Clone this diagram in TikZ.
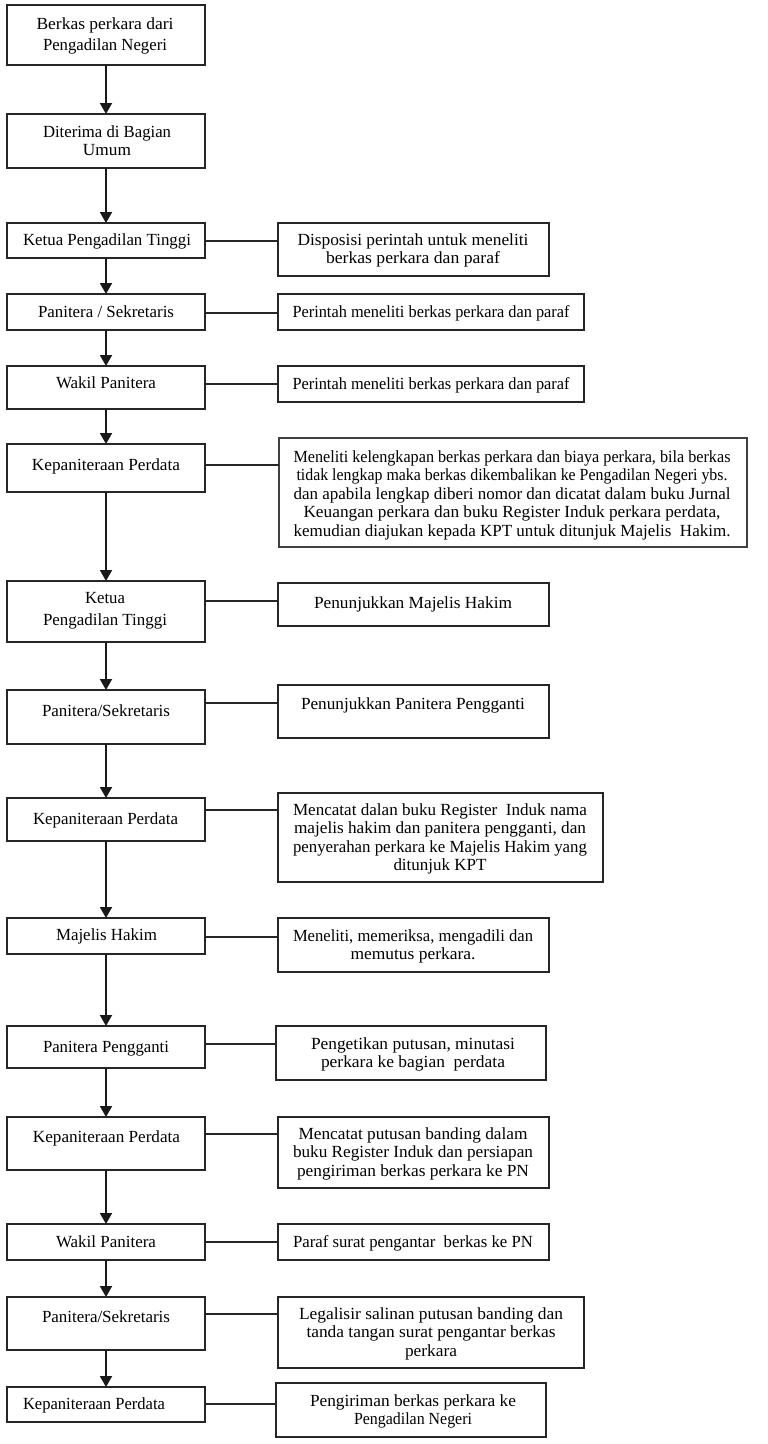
\documentclass[tikz,border=0pt]{standalone}
\usepackage{fontspec}
\setmainfont{Liberation Serif}
\usepackage{graphicx}
\usetikzlibrary{arrows.meta}
\newsavebox\fitbx
\newcommand\fitw[2]{\sbox\fitbx{#2}\edef\fitr{\fpeval{(#1)/(\the\wd\fitbx)}}\scalebox{\fitr}[1]{\usebox\fitbx}}
\tikzset{
  bx/.style={draw=black!85, line width=1.4pt, inner sep=0pt, outer sep=0pt, anchor=north west},
  thick box/.style={line width=2.3pt},
  mid box/.style={line width=1.9pt},
  arr/.style={draw=black!90, line width=1.9pt, -{Triangle[length=11pt,width=12pt]}},
  con/.style={draw=black!85, line width=1.2pt},
  tx/.style={anchor=base, inner sep=0pt, outer sep=0pt, text=black, yshift=-2pt}
}
\newcommand\bx[6][]{\node[bx,#1,minimum width=\fpeval{#5-#3}pt,minimum height=\fpeval{#6-#4}pt] (#2) at (#3,#4) {};}
\newcommand\txt[5]{\node[tx] (#1) at (#2,#3) {\fontsize{17}{#4}\selectfont\begin{tabular}[t]{@{}c@{}}#5\end{tabular}};}
\newcommand\conn[3]{\coordinate (c#1) at ([yshift=-#3pt]#1.north east); \draw[con] (c#1) -- (c#1 -| #2.west);}
\begin{document}
\begin{tikzpicture}[x=1pt,y=-1pt]
\useasboundingbox (0,0) rectangle (768,1444);
% left column boxes
\bx[thick box]{L1}{7}{5}{205}{65}
\bx{L2}{7}{114}{205}{168}
\bx{L3}{7}{223}{205}{258}
\bx{L4}{7}{294}{205}{330}
\bx{L5}{7}{366}{205}{409}
\bx{L6}{7}{444}{205}{492}
\bx[mid box]{L7}{7}{581}{205}{642}
\bx{L8}{7}{690}{205}{744}
\bx{L9}{7}{798}{205}{841}
\bx{L10}{7}{918}{205}{954}
\bx[mid box]{L11}{7}{1026}{205}{1068}
\bx{L12}{7}{1117}{205}{1170}
\bx{L13}{7}{1224}{205}{1260}
\bx{L14}{7}{1297}{205}{1350}
\bx{L15}{7}{1387}{205}{1422}
% right column boxes
\bx{R3}{278}{223}{549}{276}
\bx{R4}{278}{294}{584}{330}
\bx{R5}{278}{366}{584}{402}
\bx[mid box,draw=black!75]{R6}{279}{438}{747}{547}
\bx[mid box]{R7}{278}{583}{549}{626}
\bx{R8}{278}{685}{549}{738}
\bx{R9}{278}{793}{603}{882}
\bx{R10}{278}{918}{549}{972}
\bx[mid box]{R11}{276}{1026}{546}{1080}
\bx{R12}{278}{1117}{549}{1188}
\bx{R13}{278}{1224}{549}{1260}
\bx{R14}{278}{1297}{584}{1368}
\bx[mid box]{R15}{276}{1383}{546}{1437}
% left texts
\txt{T1}{105}{27}{21.5}{\fitw{137}{Berkas perkara dari}\\\fitw{124}{Pengadilan Negeri}}
\txt{T2}{107}{135}{18}{\fitw{128}{Diterima di Bagian}\\\fitw{48}{Umum}}
\txt{T3}{107}{243}{18.5}{\fitw{168}{Ketua Pengadilan Tinggi}}
\txt{T4}{106}{315}{18.5}{\fitw{136}{Panitera / Sekretaris}}
\txt{T5}{106}{386}{18.5}{\fitw{100}{Wakil Panitera}}
\txt{T6}{106}{468}{18.5}{\fitw{148}{Kepaniteraan Perdata}}
\txt{T7}{105}{601}{22}{\fitw{40}{Ketua}\\\fitw{124}{Pengadilan Tinggi}}
\txt{T8}{106}{714}{18.5}{\fitw{128}{Panitera/Sekretaris}}
\txt{T9}{105.5}{822}{18.5}{\fitw{145}{Kepaniteraan Perdata}}
\txt{T10}{106.5}{938}{18.5}{\fitw{101}{Majelis Hakim}}
\txt{T11}{106}{1050}{18.5}{\fitw{126}{Panitera Pengganti}}
\txt{T12}{106.5}{1140}{18.5}{\fitw{147}{Kepaniteraan Perdata}}
\txt{T13}{106}{1245}{18.5}{\fitw{100}{Wakil Panitera}}
\txt{T14}{106}{1320}{18.5}{\fitw{128}{Panitera/Sekretaris}}
\txt{T15}{94}{1407}{18.5}{\fitw{142}{Kepaniteraan Perdata}}
% right texts
\txt{S3}{413}{243}{18.5}{\fitw{231}{Disposisi perintah untuk meneliti}\\\fitw{174}{berkas perkara dan paraf}}
\txt{S4}{431}{315}{18.5}{\fitw{277}{Perintah meneliti berkas perkara dan paraf}}
\txt{S5}{431}{387}{18.5}{\fitw{277}{Perintah meneliti berkas perkara dan paraf}}
\txt{S6}{512}{460}{18.5}{\fitw{437}{Meneliti kelengkapan berkas perkara dan biaya perkara, bila berkas}\\\fitw{431}{tidak lengkap maka berkas dikembalikan ke Pengadilan Negeri ybs.}\\\fitw{437}{dan apabila lengkap diberi nomor dan dicatat dalam buku Jurnal}\\\fitw{417}{Keuangan perkara dan buku Register Induk perkara perdata,}\\\fitw{437}{kemudian diajukan kepada KPT untuk ditunjuk Majelis\ \ Hakim.}}
\txt{S7}{413}{606}{18.5}{\fitw{198}{Penunjukkan Majelis Hakim}}
\txt{S8}{413}{707}{18.5}{\fitw{224}{Penunjukkan Panitera Pengganti}}
\txt{S9}{440}{813}{18.5}{\fitw{294}{Mencatat dalan buku Register\ \ Induk nama}\\\fitw{292}{majelis hakim dan panitera pengganti, dan}\\\fitw{294}{penyerahan perkara ke Majelis Hakim yang}\\\fitw{93}{ditunjuk KPT}}
\txt{S10}{413}{939}{18.5}{\fitw{240}{Meneliti, memeriksa, mengadili dan}\\\fitw{125}{memutus perkara.}}
\txt{S11}{413}{1047}{18.5}{\fitw{204}{Pengetikan putusan, minutasi}\\\fitw{184}{perkara ke bagian\ \ perdata}}
\txt{S12}{413}{1137}{18.5}{\fitw{229}{Mencatat putusan banding dalam}\\\fitw{240}{buku Register Induk dan persiapan}\\\fitw{232}{pengiriman berkas perkara ke PN}}
\txt{S13}{413}{1245}{18.5}{\fitw{240}{Paraf surat pengantar\ \ berkas ke PN}}
\txt{S14}{431}{1317}{18.5}{\fitw{264}{Legalisir salinan putusan banding dan}\\\fitw{249}{tanda tangan surat pengantar berkas}\\\fitw{52}{perkara}}
\txt{S15}{413}{1404}{18.5}{\fitw{206}{Pengiriman berkas perkara ke}\\\fitw{118}{Pengadilan Negeri}}
% vertical arrows
\draw[arr] (L1.south) -- (L1.south |- L2.north);
\draw[arr] (L2.south) -- (L2.south |- L3.north);
\draw[arr] (L3.south) -- (L3.south |- L4.north);
\draw[arr] (L4.south) -- (L4.south |- L5.north);
\draw[arr] (L5.south) -- (L5.south |- L6.north);
\draw[arr] (L6.south) -- (L6.south |- L7.north);
\draw[arr] (L7.south) -- (L7.south |- L8.north);
\draw[arr] (L8.south) -- (L8.south |- L9.north);
\draw[arr] (L9.south) -- (L9.south |- L10.north);
\draw[arr] (L10.south) -- (L10.south |- L11.north);
\draw[arr] (L11.south) -- (L11.south |- L12.north);
\draw[arr] (L12.south) -- (L12.south |- L13.north);
\draw[arr] (L13.south) -- (L13.south |- L14.north);
\draw[arr] (L14.south) -- (L14.south |- L15.north);
% horizontal connectors
\conn{L3}{R3}{18}
\conn{L4}{R4}{19}
\conn{L5}{R5}{18}
\conn{L6}{R6}{21}
\conn{L7}{R7}{20}
\conn{L8}{R8}{13}
\conn{L9}{R9}{12}
\conn{L10}{R10}{19}
\conn{L11}{R11}{18}
\conn{L12}{R12}{17}
\conn{L13}{R13}{18}
\conn{L14}{R14}{17}
\conn{L15}{R15}{17}
\end{tikzpicture}
\end{document}
